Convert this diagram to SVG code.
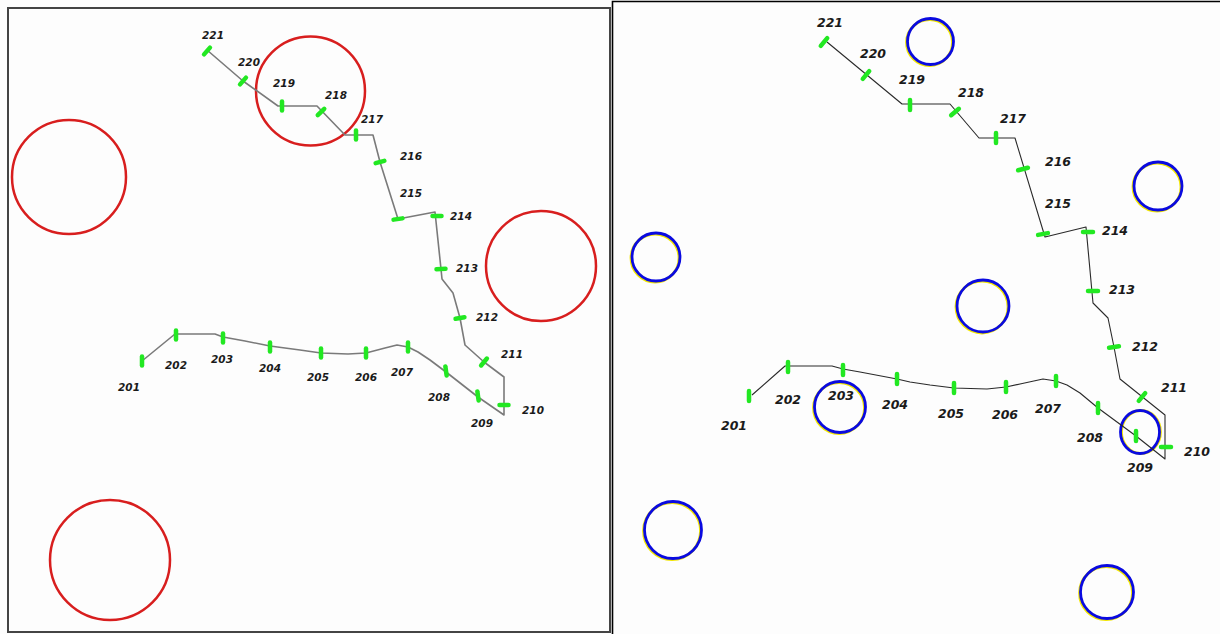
<svg xmlns="http://www.w3.org/2000/svg" xmlns:xlink="http://www.w3.org/1999/xlink" width="1220" height="634" viewBox="0 0 1220 634">
<defs>
<style>
.bg{fill:#fdfdfd}
.frameL{fill:#fdfdfd;stroke:#444;stroke-width:2}
.frameR{fill:none;stroke:#000;stroke-width:1.6}
.red{fill:none;stroke:#d81e1e;stroke-width:2.5}
.blue{fill:none;stroke:#0a0ae0;stroke-width:2.8}
.yel{fill:none;stroke:#f2e600;stroke-width:2.8}
.pathL{fill:none;stroke:#7a7a7a;stroke-width:1.6;stroke-linejoin:round}
.pathR{fill:none;stroke:#2a2a2a;stroke-width:1.1;stroke-linejoin:round}
.lblL{font-family:"DejaVu Sans",Verdana,sans-serif;font-weight:bold;font-style:italic;font-size:10.5px;fill:#1a1a1a;text-anchor:middle}
.lblR{font-family:"DejaVu Sans",Verdana,sans-serif;font-weight:bold;font-style:italic;font-size:12.5px;fill:#1a1a1a;text-anchor:middle}
.mk{stroke:#22e822;stroke-width:4.5;stroke-linecap:round}
</style>
<line id="mL" class="mk" x1="0" y1="-4.5" x2="0" y2="4.5"/>
<line id="mR" class="mk" x1="0" y1="-5" x2="0" y2="5"/>
</defs>
<rect class="bg" x="0" y="0" width="1220" height="634"/>
<rect class="frameL" x="8" y="8" width="602" height="624"/>
<path class="frameR" d="M612.5,634 V1.5 H1220"/>

<g id="left-circles">
<circle class="red" cx="69" cy="177" r="57"/>
<circle class="red" cx="310.5" cy="91" r="54.5"/>
<circle class="red" cx="541" cy="266" r="55"/>
<circle class="red" cx="110" cy="560" r="60"/>
</g>

<g id="right-circles">
<circle class="yel" cx="929.5" cy="42.5" r="23"/><circle class="blue" cx="930.5" cy="41.5" r="23"/>
<circle class="yel" cx="1157" cy="187" r="24"/><circle class="blue" cx="1158" cy="186" r="24"/>
<circle class="yel" cx="655" cy="258" r="24"/><circle class="blue" cx="656" cy="257" r="24"/>
<circle class="yel" cx="982" cy="307" r="26"/><circle class="blue" cx="983" cy="306" r="26"/>
<circle class="yel" cx="839" cy="408" r="25.5"/><circle class="blue" cx="840" cy="407" r="25.5"/>
<ellipse class="yel" cx="1141" cy="432" rx="19.5" ry="21.5"/><ellipse class="blue" cx="1140" cy="432" rx="19.5" ry="21.5"/>
<circle class="yel" cx="672" cy="531" r="28.5"/><circle class="blue" cx="673" cy="530" r="28.5"/>
<circle class="yel" cx="1106" cy="593" r="26.5"/><circle class="blue" cx="1107" cy="592" r="26.5"/>
</g>

<g id="connectors">
<polyline class="pathL" points="207,50 243,81 278,106 317,106 345,135 373,135 380,162 398,219 435,212 441,269 442,279 453,293 460,318 465,345 484,362 504,377 504,415 478,397 446,372 430,360 418,352 408,347 397,345 385,348 366,353 348,354 321,353 300,350 270,346 245,341 223,337 215,334 175,334 142,361"/>
<polyline class="pathR" points="827,42 902,104 950,104 979,138 1015,138 1045,237 1086,227 1093,303 1108,318 1114,347 1120,379 1165,415 1165,459 1136,436 1098,408 1080,393 1067,385 1056,381 1043,379 1020,384 1006,387 987,389 954,388 930,385 910,382 897,379 860,372 843,369 832,366 785,366 752,395"/>
</g>

<g id="left-markers">
<use xlink:href="#mL" transform="translate(207,51) rotate(41)"/>
<use xlink:href="#mL" transform="translate(243,81) rotate(41)"/>
<use xlink:href="#mL" transform="translate(282,106) rotate(0)"/>
<use xlink:href="#mL" transform="translate(321,112) rotate(46)"/>
<use xlink:href="#mL" transform="translate(356,135) rotate(0)"/>
<use xlink:href="#mL" transform="translate(380,162) rotate(75)"/>
<use xlink:href="#mL" transform="translate(398,219) rotate(82)"/>
<use xlink:href="#mL" transform="translate(437,216) rotate(90)"/>
<use xlink:href="#mL" transform="translate(441,269) rotate(88)"/>
<use xlink:href="#mL" transform="translate(460,318) rotate(80)"/>
<use xlink:href="#mL" transform="translate(484,362) rotate(40)"/>
<use xlink:href="#mL" transform="translate(504,405) rotate(90)"/>
<use xlink:href="#mL" transform="translate(478,396) rotate(-8)"/>
<use xlink:href="#mL" transform="translate(446,371) rotate(-8)"/>
<use xlink:href="#mL" transform="translate(408,347) rotate(0)"/>
<use xlink:href="#mL" transform="translate(366,353) rotate(0)"/>
<use xlink:href="#mL" transform="translate(321,353) rotate(0)"/>
<use xlink:href="#mL" transform="translate(270,347) rotate(0)"/>
<use xlink:href="#mL" transform="translate(223,338) rotate(0)"/>
<use xlink:href="#mL" transform="translate(176,335) rotate(0)"/>
<use xlink:href="#mL" transform="translate(142,361) rotate(0)"/>
</g>

<g id="right-markers">
<use xlink:href="#mR" transform="translate(824,42) rotate(40)"/>
<use xlink:href="#mR" transform="translate(866,75) rotate(40)"/>
<use xlink:href="#mR" transform="translate(910,105) rotate(0)"/>
<use xlink:href="#mR" transform="translate(955,112) rotate(50)"/>
<use xlink:href="#mR" transform="translate(996,138) rotate(0)"/>
<use xlink:href="#mR" transform="translate(1023,169) rotate(75)"/>
<use xlink:href="#mR" transform="translate(1043,234) rotate(80)"/>
<use xlink:href="#mR" transform="translate(1088,232) rotate(90)"/>
<use xlink:href="#mR" transform="translate(1093,291) rotate(90)"/>
<use xlink:href="#mR" transform="translate(1114,347) rotate(82)"/>
<use xlink:href="#mR" transform="translate(1142,397) rotate(40)"/>
<use xlink:href="#mR" transform="translate(1166,447) rotate(90)"/>
<use xlink:href="#mR" transform="translate(1136,436) rotate(0)"/>
<use xlink:href="#mR" transform="translate(1098,408) rotate(0)"/>
<use xlink:href="#mR" transform="translate(1056,381) rotate(0)"/>
<use xlink:href="#mR" transform="translate(1006,387) rotate(0)"/>
<use xlink:href="#mR" transform="translate(954,388) rotate(0)"/>
<use xlink:href="#mR" transform="translate(897,379) rotate(0)"/>
<use xlink:href="#mR" transform="translate(843,370) rotate(0)"/>
<use xlink:href="#mR" transform="translate(788,367) rotate(0)"/>
<use xlink:href="#mR" transform="translate(749,396) rotate(0)"/>
</g>

<g id="left-labels">
<text class="lblL" x="213" y="39">221</text>
<text class="lblL" x="249" y="66">220</text>
<text class="lblL" x="284" y="87">219</text>
<text class="lblL" x="336" y="99">218</text>
<text class="lblL" x="372" y="123">217</text>
<text class="lblL" x="411" y="160">216</text>
<text class="lblL" x="411" y="197">215</text>
<text class="lblL" x="461" y="220">214</text>
<text class="lblL" x="467" y="272">213</text>
<text class="lblL" x="487" y="321">212</text>
<text class="lblL" x="512" y="358">211</text>
<text class="lblL" x="533" y="414">210</text>
<text class="lblL" x="482" y="427">209</text>
<text class="lblL" x="439" y="401">208</text>
<text class="lblL" x="402" y="376">207</text>
<text class="lblL" x="366" y="381">206</text>
<text class="lblL" x="318" y="381">205</text>
<text class="lblL" x="270" y="372">204</text>
<text class="lblL" x="222" y="363">203</text>
<text class="lblL" x="176" y="369">202</text>
<text class="lblL" x="129" y="391">201</text>
</g>

<g id="right-labels">
<text class="lblR" x="830" y="26.5">221</text>
<text class="lblR" x="873" y="57.5">220</text>
<text class="lblR" x="912" y="83.5">219</text>
<text class="lblR" x="971" y="96.5">218</text>
<text class="lblR" x="1013" y="122.5">217</text>
<text class="lblR" x="1058" y="165.5">216</text>
<text class="lblR" x="1058" y="207.5">215</text>
<text class="lblR" x="1115" y="234.5">214</text>
<text class="lblR" x="1122" y="293.5">213</text>
<text class="lblR" x="1145" y="350.5">212</text>
<text class="lblR" x="1174" y="391.5">211</text>
<text class="lblR" x="1197" y="455.5">210</text>
<text class="lblR" x="1140" y="471.5">209</text>
<text class="lblR" x="1090" y="441.5">208</text>
<text class="lblR" x="1048" y="412.5">207</text>
<text class="lblR" x="1005" y="418.5">206</text>
<text class="lblR" x="951" y="417.5">205</text>
<text class="lblR" x="895" y="408.5">204</text>
<text class="lblR" x="841" y="399.5">203</text>
<text class="lblR" x="788" y="403.5">202</text>
<text class="lblR" x="734" y="429.5">201</text>
</g>
</svg>
